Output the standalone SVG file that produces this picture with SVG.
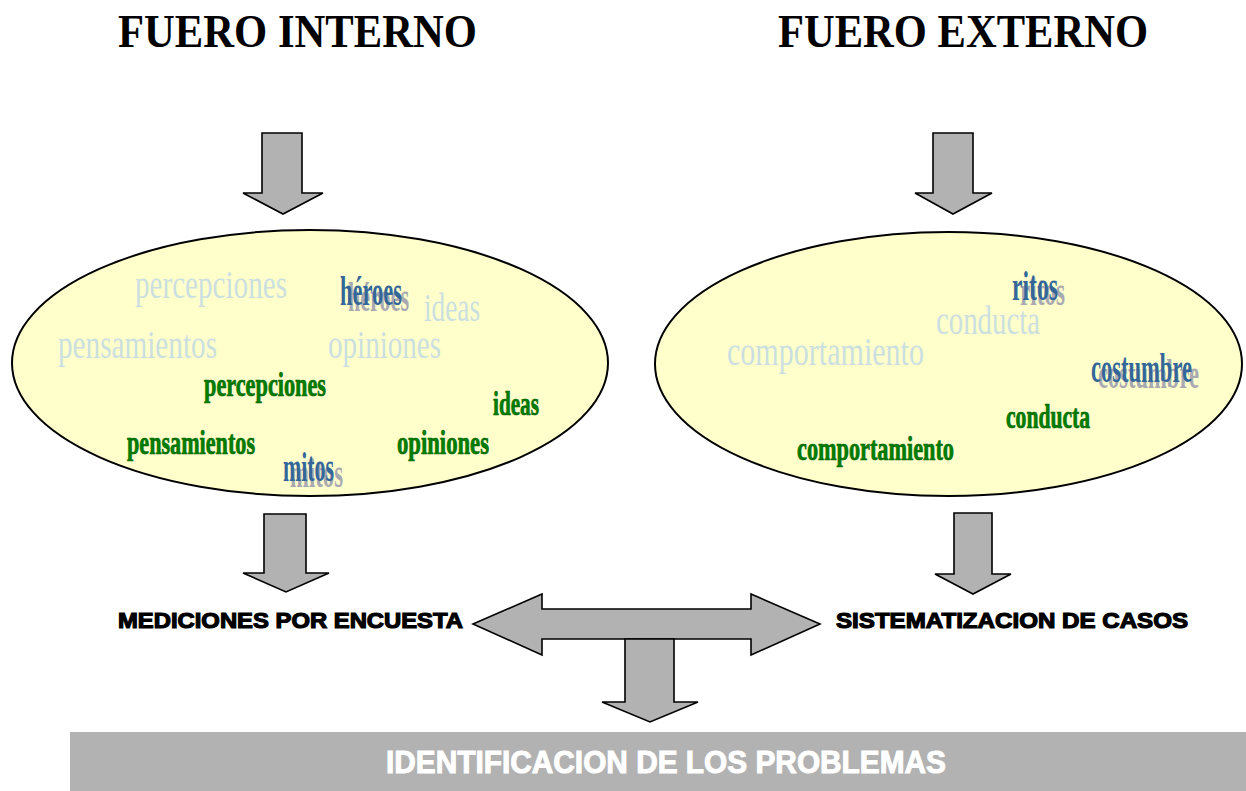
<svg xmlns="http://www.w3.org/2000/svg" width="1246" height="791" viewBox="0 0 1246 791">
<style>
.title{font-family:"Liberation Serif","Times New Roman",serif;font-weight:bold;font-size:46px;fill:#000}
.faded{font-family:"Liberation Serif","Times New Roman",serif;font-size:41px;fill:#cbdfe0}
.blue{font-family:"Liberation Serif","Times New Roman",serif;font-weight:bold;font-size:42px;fill:#336699}
.shadow{font-family:"Liberation Serif","Times New Roman",serif;font-weight:bold;font-size:42px;fill:#a9a9b2}
.green{font-family:"Liberation Serif","Times New Roman",serif;font-weight:bold;font-size:33px;fill:#008000;stroke:#005a00;stroke-width:0.7}
.label{font-family:"Liberation Sans",Arial,sans-serif;font-weight:bold;font-size:22px;fill:#000;stroke:#000;stroke-width:1.2}
.bar{font-family:"Liberation Sans",Arial,sans-serif;font-weight:bold;font-size:31px;fill:#fff;stroke:#fff;stroke-width:1}
.arrow{fill:#b2b2b2;stroke:#000;stroke-width:1.6;stroke-linejoin:miter}
.oval{fill:#ffffcc;stroke:#000;stroke-width:2}
</style>
<rect width="1246" height="791" fill="#fff"/>

<g id="title-interno"><text class="title" x="118" y="47" textLength="359" lengthAdjust="spacingAndGlyphs">FUERO INTERNO</text></g>
<g id="title-externo"><text class="title" x="778" y="47" textLength="370" lengthAdjust="spacingAndGlyphs">FUERO EXTERNO</text></g>

<g id="fuero-interno">
<ellipse class="oval" cx="310" cy="363" rx="298" ry="133"/>
<text class="faded" x="135" y="298" textLength="152" lengthAdjust="spacingAndGlyphs">percepciones</text>
<text class="shadow" x="348" y="311" textLength="61" lengthAdjust="spacingAndGlyphs">héroes</text>
<text class="blue" x="340" y="305" textLength="62" lengthAdjust="spacingAndGlyphs">héroes</text>
<text class="faded" x="424" y="321" textLength="56" lengthAdjust="spacingAndGlyphs">ideas</text>
<text class="faded" x="58" y="358" textLength="159" lengthAdjust="spacingAndGlyphs">pensamientos</text>
<text class="faded" x="328" y="358" textLength="113" lengthAdjust="spacingAndGlyphs">opiniones</text>
<text class="green" x="204" y="396" textLength="122" lengthAdjust="spacingAndGlyphs">percepciones</text>
<text class="green" x="493" y="415" textLength="46" lengthAdjust="spacingAndGlyphs">ideas</text>
<text class="green" x="127" y="454" textLength="128" lengthAdjust="spacingAndGlyphs">pensamientos</text>
<text class="green" x="397" y="454" textLength="92" lengthAdjust="spacingAndGlyphs">opiniones</text>
<text class="shadow" x="290" y="487" textLength="53" lengthAdjust="spacingAndGlyphs">mitos</text>
<text class="blue" x="283" y="481" textLength="51" lengthAdjust="spacingAndGlyphs">mitos</text>
</g>

<g id="fuero-externo">
<ellipse class="oval" cx="948.5" cy="364" rx="293.5" ry="132"/>
<text class="shadow" x="1020" y="305" textLength="45" lengthAdjust="spacingAndGlyphs">ritos</text>
<text class="blue" x="1012" y="300" textLength="46" lengthAdjust="spacingAndGlyphs">ritos</text>
<text class="faded" x="936" y="334" font-size="46" textLength="104" lengthAdjust="spacingAndGlyphs">conducta</text>
<text class="faded" x="727" y="365" textLength="197" lengthAdjust="spacingAndGlyphs">comportamiento</text>
<text class="shadow" x="1098" y="388" textLength="101" lengthAdjust="spacingAndGlyphs">costumbre</text>
<text class="blue" x="1091" y="382" textLength="101" lengthAdjust="spacingAndGlyphs">costumbre</text>
<text class="green" x="1006" y="428" textLength="84" lengthAdjust="spacingAndGlyphs">conducta</text>
<text class="green" x="797" y="460" textLength="157" lengthAdjust="spacingAndGlyphs">comportamiento</text>
</g>

<g id="label-mediciones"><text class="label" x="118" y="628" textLength="345" lengthAdjust="spacingAndGlyphs">MEDICIONES POR ENCUESTA</text></g>
<g id="label-sistematizacion"><text class="label" x="836" y="628" textLength="352" lengthAdjust="spacingAndGlyphs">SISTEMATIZACION DE CASOS</text></g>

<g id="identificacion">
<rect x="70" y="732" width="1176" height="59" fill="#b2b2b2"/>
<text class="bar" x="386" y="773" textLength="560" lengthAdjust="spacingAndGlyphs">IDENTIFICACION DE LOS PROBLEMAS</text>
</g>

<g id="connectors">
<polygon class="arrow" points="262,133 302,133 302,193 323,193 283,214 243,193 262,193"/>
<polygon class="arrow" points="933,133 973,133 973,193 992,193 953,214 915,193 933,193"/>
<polygon class="arrow" points="264,514 306,514 306,573 329,573 286,592 243,573 264,573"/>
<polygon class="arrow" points="954,513 992,513 992,574 1011,574 973,594 935,574 954,574"/>
<polygon class="arrow" points="473,624 542,594 542,609 751,609 751,594 820,624 751,655 751,639 542,639 542,655"/>
<polygon class="arrow" points="625,639 674,639 674,702 698,702 650,722 602,702 625,702"/>
</g>
</svg>
